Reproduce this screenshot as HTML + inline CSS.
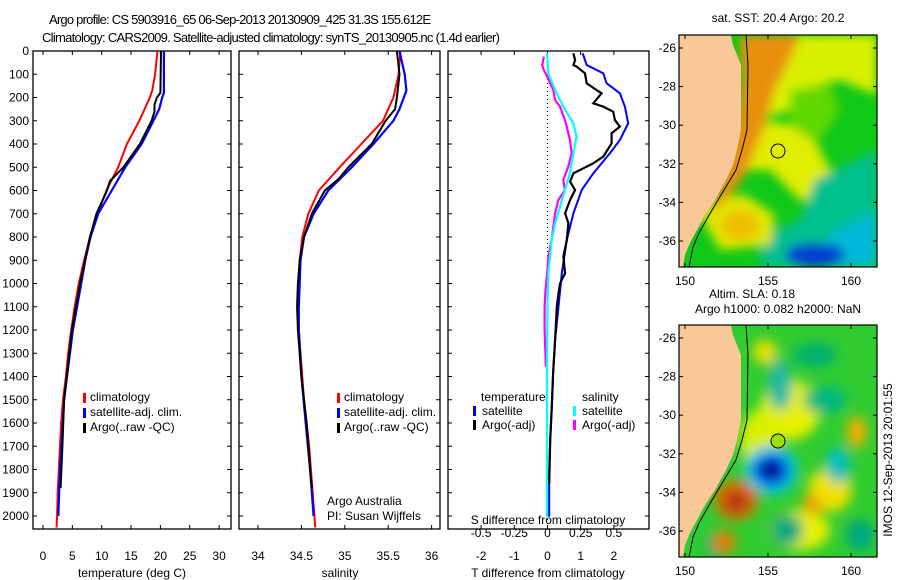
<!DOCTYPE html>
<html><head><meta charset="utf-8"><style>
body{margin:0;background:#fff;}
svg{display:block;font-family:"Liberation Sans",sans-serif;font-size:12px;}
</style></head><body>
<svg id="fig" width="900" height="580" viewBox="0 0 900 580">
<defs>
<filter id="blur6" x="-50%" y="-50%" width="200%" height="200%"><feGaussianBlur stdDeviation="5"/></filter>
<filter id="blur10" x="-50%" y="-50%" width="200%" height="200%"><feGaussianBlur stdDeviation="6"/></filter>
<clipPath id="clipM1"><rect x="679" y="35" width="198" height="232"/></clipPath>
<clipPath id="clipM2"><rect x="679" y="325" width="198" height="232"/></clipPath>
</defs>
<text x="240" y="24" text-anchor="middle" textLength="382" font-size="13">Argo profile: CS 5903916_65 06-Sep-2013 20130909_425 31.3S 155.612E</text>
<text x="271" y="42" text-anchor="middle" textLength="458" font-size="13">Climatology: CARS2009. Satellite-adjusted climatology: synTS_20130905.nc (1.4d earlier)</text>
<g id="plots"></g>
<g id="maps"></g>
</svg>
<script>
// ---------- data ----------
const tDepthRed=[0,100,170,200,250,300,400,500,600,700,800,900,1000,1100,1200,1300,1400,1500,1600,1700,1800,1900,2000,2050];
const tClim=[19.5,19.1,18.6,18.2,17.3,16.4,14.3,12.8,10.8,9.3,8.0,7.0,6.1,5.4,4.8,4.3,3.9,3.4,3.1,2.9,2.7,2.5,2.4,2.3];
const tDepthBlue=[0,180,200,250,300,400,500,600,700,800,900,1000,1200,1500,1800,2000];
const tSat=[20.6,20.6,20.3,19.8,18.8,16.8,14.0,11.7,9.4,8.1,7.2,6.5,5.1,3.6,2.9,2.6];
const tDepthArgo=[0,180,200,230,260,300,400,500,560,600,700,800,1000,1200,1500,1700,1880];
const tArgo=[20.1,20.0,19.4,19.0,19.0,18.5,16.5,13.7,11.4,10.9,9.1,8.0,6.3,4.9,3.6,3.3,3.0];

const sDepthRed=[0,100,200,300,400,500,600,700,800,900,1000,1100,1200,1300,1400,1500,1600,1700,1800,1900,2000,2050];
const sClim=[35.64,35.62,35.56,35.44,35.19,34.94,34.70,34.58,34.51,34.48,34.47,34.46,34.47,34.49,34.51,34.53,34.56,34.59,34.61,34.63,34.65,34.66];
const sDepthBlue=[0,100,170,250,300,400,500,600,700,800,900,1000,1100,1200,1400,1600,1800,2000];
const sSat=[35.63,35.69,35.71,35.63,35.56,35.33,35.08,34.81,34.64,34.53,34.49,34.48,34.47,34.47,34.50,34.55,34.60,34.64];
const sDepthArgo=[0,100,200,250,300,400,500,550,600,700,800,900,1000,1100,1200,1400,1600,1800,1880];
const sArgo=[35.60,35.63,35.60,35.58,35.47,35.31,35.04,34.93,34.77,34.62,34.53,34.48,34.46,34.45,34.46,34.50,34.56,34.60,34.62];

const dDepthTSat=[10,60,96,139,182,239,311,383,440,526,598,698,813,956,1100,1243,1386,1530,1673,1816,2003];
const dTSat=[1.06,1.18,1.68,1.78,2.18,2.33,2.43,2.18,1.88,1.38,1.03,0.78,0.58,0.43,0.33,0.23,0.17,0.13,0.08,0.05,0.05];
const dDepthTArgo=[10,39,60,67,96,139,168,182,225,239,261,297,325,354,397,454,483,526,562,598,641,698,741,813,885,956,999,1042,1100,1243,1386,1530,1673,1860];
const dTArgo=[0.78,0.83,0.78,0.88,1.13,1.18,1.48,1.63,1.38,1.68,1.98,2.03,2.18,1.93,1.93,1.68,1.38,0.78,0.68,0.83,0.68,0.53,0.63,0.58,0.48,0.53,0.38,0.33,0.28,0.23,0.17,0.13,0.08,0.05];
const dDepthSSat=[10,96,168,239,311,368,440,526,598,670,741,813,956,1100,1386,2003];
const dSSat=[-0.004,0.006,0.057,0.119,0.194,0.219,0.194,0.169,0.131,0.094,0.057,0.032,0.006,0,-0.004,-0.004];
const dDepthSArgo=[24,60,82,110,168,211,239,311,383,440,497,555,598,641,698,756,813,885,956,1028,1100,1200,1358];
const dSArgo=[-0.027,-0.04,-0.027,-0.002,0.044,0.057,0.094,0.139,0.169,0.182,0.157,0.119,0.131,0.082,0.057,0.044,0.032,0.006,-0.002,-0.015,-0.022,-0.022,-0.012];

const depthTicks=[0,100,200,300,400,500,600,700,800,900,1000,1100,1200,1300,1400,1500,1600,1700,1800,1900,2000];
const tTicks=[0,5,10,15,20,25,30];
const sTicks=[34,34.5,35,35.5,36];
const sTickLabels=["34","34.5","35","35.5","36"];
const dTTicks=[-2,-1,0,1,2];
const dSTicks=[-0.5,-0.25,0,0.25,0.5];
const dSTickLabels=["-0.5","-0.25","0","0.25","0.5"];

// ---------- helpers ----------
const NS="http://www.w3.org/2000/svg";
function mk(tag,attrs,parent){const e=document.createElementNS(NS,tag);for(const k in attrs)e.setAttribute(k,attrs[k]);parent.appendChild(e);return e;}
const top0=51, bot0=529;
const yD=d=>51+d*0.2325;
const xT=v=>43+v*5.87;
const xS=v=>258+(v-34)*86.8;
const xDT=v=>547.5+v*33.2;
const xDS=v=>547.5+v*132.8;
const G=document.getElementById('plots');

function panel(name,x0,x1){
  const g=mk('g',{},G);
  
  
  const r=mk('rect',{x:x0,y:top0,width:x1-x0,height:bot0-top0,fill:'none',stroke:'#000','stroke-width':1.3},g);
  
  
  depthTicks.forEach(d=>{
    const y=yD(d);
    mk('line',{x1:x0,x2:x0+4,y1:y,y2:y,stroke:'#000'},g);
    mk('line',{x1:x1,x2:x1-4,y1:y,y2:y,stroke:'#000'},g);
  });
  return g;
}
function xticks(g,arr,fx,labels){
  arr.forEach((v,i)=>{
    const x=fx(v);
    mk('line',{x1:x,x2:x,y1:bot0,y2:bot0-4,stroke:'#000'},g);
    mk('line',{x1:x,x2:x,y1:top0,y2:top0+4,stroke:'#000'},g);
    const t=mk('text',{x:x,y:560,'text-anchor':'middle'},g);
    t.textContent=labels?labels[i]:String(v);
    
    
  });
}
function line(g,depths,vals,fx,color,w,name){
  let d='';
  depths.forEach((dep,i)=>{d+=(i?'L':'M')+fx(vals[i]).toFixed(1)+' '+yD(dep).toFixed(1);});
  const p=mk('path',{d:d,fill:'none',stroke:color,'stroke-width':w,'stroke-linejoin':'miter'},g);
  
  
}
function txt(g,x,y,s,name,anchor){
  const t=mk('text',{x:x,y:y,'text-anchor':anchor||'start'},g);
  t.textContent=s;
  
  
  return t;
}
function legBar(g,x,y,c){mk('rect',{x:x,y:y-9,width:3,height:10,fill:c},g);}

// panel 1: temperature
const p1=panel('temperature-panel',33,231);
depthTicks.forEach(d=>{ txt(p1,29,yD(d)+4,String(d),'y-tick-label','end'); });
xticks(p1,tTicks,xT);
line(p1,tDepthRed,tClim,xT,'#ff0000',2,'temp-climatology-line');
line(p1,tDepthBlue,tSat,xT,'#0000ff',2.2,'temp-satellite-line');
line(p1,tDepthArgo,tArgo,xT,'#000000',2,'temp-argo-line');
txt(p1,132,577,'temperature (deg C)','x-axis-title','middle');
legBar(p1,83,402,'#f00');legBar(p1,83,417,'#00f');legBar(p1,83,432,'#000');
txt(p1,90,401,'climatology','legend-climatology');
txt(p1,90,416,'satellite-adj. clim.','legend-satellite');
txt(p1,90,431,'Argo(..raw -QC)','legend-argo');

// panel 2: salinity
const p2=panel('salinity-panel',239,440);
xticks(p2,sTicks,xS,sTickLabels);
line(p2,sDepthRed,sClim,xS,'#ff0000',2,'sal-climatology-line');
line(p2,sDepthBlue,sSat,xS,'#0000ff',2.2,'sal-satellite-line');
line(p2,sDepthArgo,sArgo,xS,'#000000',2,'sal-argo-line');
txt(p2,340,577,'salinity','x-axis-title','middle');
legBar(p2,337,402,'#f00');legBar(p2,337,417,'#00f');legBar(p2,337,432,'#000');
txt(p2,344,401,'climatology','legend-climatology');
txt(p2,344,416,'satellite-adj. clim.','legend-satellite');
txt(p2,344,431,'Argo(..raw -QC)','legend-argo');
txt(p2,327,505,'Argo Australia','credit-line-1');
txt(p2,327,520,'PI: Susan Wijffels','credit-line-2');

// panel 3: differences
const p3=panel('difference-panel',448,649);
xticks(p3,dTTicks,xDT);
mk('line',{x1:547.5,x2:547.5,y1:top0,y2:bot0,stroke:'#000','stroke-dasharray':'1 3'},p3);
dSTicks.forEach((v,i)=>{txt(p3,xDS(v),537,dSTickLabels[i],'s-tick-label','middle');});
txt(p3,548,524,'S difference from climatology','s-axis-title','middle');
line(p3,dDepthSArgo,dSArgo,xDS,'#ff00ff',2.2,'sal-argo-diff-line');
line(p3,dDepthSSat,dSSat,xDS,'#00ffff',2.2,'sal-satellite-diff-line');
line(p3,dDepthTSat,dTSat,xDT,'#0000ff',2,'temp-satellite-diff-line');
line(p3,dDepthTArgo,dTArgo,xDT,'#000000',2.2,'temp-argo-diff-line');
txt(p3,548,577,'T difference from climatology','x-axis-title','middle');
txt(p3,481,401,'temperature','legend-temperature-header');
legBar(p3,473,415,'#00f');legBar(p3,473,429,'#000');
txt(p3,482,415,'satellite','legend-temp-satellite');
txt(p3,482,429,'Argo(-adj)','legend-temp-argo');
txt(p3,582,401,'salinity','legend-salinity-header');
legBar(p3,573,415,'#0ff');legBar(p3,573,429,'#f0f');
txt(p3,582,415,'satellite','legend-sal-satellite');
txt(p3,582,429,'Argo(-adj)','legend-sal-argo');

// ---------- maps ----------
const M=document.getElementById('maps');
const latTicks=[-26,-28,-30,-32,-34,-36];
const lonTicks=[150,155,160];
const coastPts=[[679,0],[731,0],[733,10],[741,30],[741,95],[737,115],[733,130],[726,145],[715,165],[705,180],[697,195],[690,208],[685,220],[683,232],[679,232]];
const shelfPts=[[746,0],[748,30],[747,95],[742,115],[736,135],[727,150],[718,165],[708,182],[699,198],[693,212],[689,232]];
function coast(oy){ return coastPts.map(p=>p[0]+','+(p[1]+oy)).join(' '); }
function shelf(oy){ return 'M'+shelfPts.map(p=>p[0]+' '+(p[1]+oy)).join(' L'); }
function mapFrame(g,oy){
  mk('rect',{x:679,y:oy,width:198,height:232,fill:'none',stroke:'#000','stroke-width':1.2},g);
  latTicks.forEach((la,i)=>{
    const y=oy+13+i*38.6;
    mk('line',{x1:679,x2:683,y1:y,y2:y,stroke:'#000'},g);
    mk('line',{x1:877,x2:873,y1:y,y2:y,stroke:'#000'},g);
    txt(g,676,y+4,String(la),'lat-tick-label','end');
  });
  lonTicks.forEach((lo,i)=>{
    const x=685+i*83;
    mk('line',{x1:x,x2:x,y1:oy,y2:oy+4,stroke:'#000'},g);
    mk('line',{x1:x,x2:x,y1:oy+232,y2:oy+228,stroke:'#000'},g);
    txt(g,x,oy+250,String(lo),'lon-tick-label','middle');
  });
}
// map 1 SST
const m1=mk('g',{},M);


const c1=mk('g',{'clip-path':'url(#clipM1)'},m1);
mk('rect',{x:679,y:35,width:198,height:232,fill:'#10c818'},c1);
const b1=mk('g',{filter:'url(#blur6)'},c1);
[['#d8f000','M760 35 L877 35 L877 95 L840 80 L800 90 L790 110 L760 120 Z'],
 ['#e0ec00','M740 130 L760 120 L790 125 L815 140 L830 170 L830 200 L800 200 L770 170 L745 170 Z'],
 ['#60d800','M790 90 L830 85 L840 110 L820 140 L790 125 Z'],
 ['#00c090','M815 180 L877 150 L877 267 L760 267 L760 235 L800 220 Z'],
 ['#00b8d8','M830 235 L877 210 L877 267 L830 267 Z'],
 ['#e0e800','M700 215 L712 198 L745 195 L775 215 L770 245 L720 250 Z']
].forEach(s=>mk('path',{d:s[1],fill:s[0]},b1));
mk('path',{d:'M740 35 L800 35 L790 60 L775 90 L765 125 L755 150 L745 175 L730 195 L710 215 L735 130 L742 80 Z',fill:'#e8900c'},b1);
mk('ellipse',{cx:815,cy:255,rx:30,ry:12,fill:'#0040d0'},b1);
mk('ellipse',{cx:740,cy:225,rx:20,ry:15,fill:'#f0c000'},b1);
mk('polygon',{points:coast(35),fill:'#f9c899'},c1);
mk('path',{d:shelf(35),fill:'none',stroke:'#000','stroke-width':1},c1);
const mk1=mk('circle',{cx:778,cy:151,r:7,fill:'none',stroke:'#000'},m1);


mapFrame(m1,35);
txt(m1,778,22,'sat. SST: 20.4 Argo: 20.2','sst-map-title','middle');

// map 2 SLA
const m2=mk('g',{},M);


const c2=mk('g',{'clip-path':'url(#clipM2)'},m2);
mk('rect',{x:679,y:325,width:198,height:232,fill:'#30cc30'},c2);
const b2=mk('g',{filter:'url(#blur10)'},c2);
[['#e8f000',790,410,30,30],['#d8f000',760,440,20,30],['#f0e000',830,490,22,22],['#e8f000',800,530,30,20],['#f0e000',765,352,12,12],
 ['#00b880',825,400,22,14],['#00b070',815,355,22,12],['#20b8a0',780,385,12,26],['#00c0c0',838,465,12,18],
 ['#00a880',787,530,16,16],['#f0a000',812,505,10,10],['#f0b000',857,432,10,16],['#00b070',715,545,12,12],['#00a880',860,535,14,16]
].forEach(s=>mk('ellipse',{cx:s[1],cy:s[2],rx:s[3],ry:s[4],fill:s[0]},b2));
mk('ellipse',{cx:736,cy:500,rx:22,ry:20,fill:'#e07000'},b2);
mk('ellipse',{cx:736,cy:502,rx:12,ry:11,fill:'#b03010'},b2);
mk('ellipse',{cx:724,cy:542,rx:12,ry:12,fill:'#e08000'},b2);
mk('ellipse',{cx:771,cy:470,rx:26,ry:24,fill:'#00c8f0'},b2);
mk('ellipse',{cx:771,cy:470,rx:18,ry:16,fill:'#0040e0'},b2);
mk('ellipse',{cx:771,cy:470,rx:10,ry:9,fill:'#000080'},b2);
mk('polygon',{points:coast(325),fill:'#f9c899'},c2);
mk('path',{d:shelf(325),fill:'none',stroke:'#000','stroke-width':1},c2);
const mk2=mk('circle',{cx:778,cy:441,r:7,fill:'#a0e000',stroke:'#000'},m2);


mapFrame(m2,325);
txt(m2,752,298,'Altim. SLA: 0.18','sla-map-title','middle');
txt(m2,778,313,'Argo h1000: 0.082 h2000: NaN','sla-map-subtitle','middle');
const ts=txt(m2,0,0,'IMOS 12-Sep-2013 20:01:55','timestamp','middle');
ts.setAttribute('transform','translate(892,460) rotate(-90)');
</script>
</body></html>
